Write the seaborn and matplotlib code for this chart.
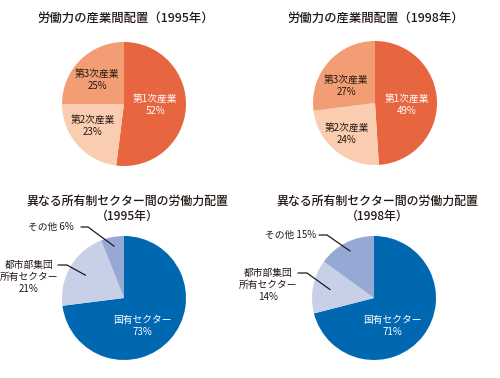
import numpy as np
import matplotlib
matplotlib.use("Agg")
import matplotlib.pyplot as plt
import seaborn as sns

sns.set_style("white")
plt.rcParams['font.family'] = ['Noto Sans CJK JP', 'DejaVu Sans']

# data
industry_labels = ["第1次産業", "第2次産業", "第3次産業"]
industry_1995 = [52, 23, 25]
industry_1998 = [49, 24, 27]
industry_colors = ["#E8663F", "#FACDB1", "#F29D73"]

owner_labels = ["国有セクター", "都市部集団\n所有セクター", "その他"]
owner_1995 = [73, 21, 6]
owner_1998 = [71, 14, 15]
owner_colors = sns.color_palette(["#0067B1", "#C8D0E8", "#95A9D4"])

titles = ["労働力の産業間配置（1995年）", "労働力の産業間配置（1998年）",
          "異なる所有制セクター間の労働力配置\n（1995年）",
          "異なる所有制セクター間の労働力配置\n（1998年）"]

W, H = 500, 378
TXT = "#231815"

fig = plt.figure(figsize=(5, 3.78), dpi=100)
ax = fig.add_axes([0, 0, 1, 1])


def py(y):
    # pixel y (top-down) -> data y
    return H - y


def draw_pie(values, colors, cx, cy, r):
    wedges, _ = ax.pie(values, colors=colors, startangle=90, counterclock=False,
                       center=(cx, py(cy)), radius=r,
                       wedgeprops=dict(linewidth=0))
    return wedges


def wedge_point(w, frac):
    a = np.deg2rad((w.theta1 + w.theta2) / 2)
    cx, cy = w.center
    return cx + frac * w.r * np.cos(a), cy + frac * w.r * np.sin(a)


# top pies: labels inside
top_specs = [
    (industry_1995, 124, 104, [(155, 105), (93, 126), (97, 80)]),
    (industry_1998, 375, 103, [(407, 105), (347, 134), (346, 86)]),
]
for (vals, cx, cy, pos) in top_specs:
    draw_pie(vals, industry_colors, cx, cy, 62)
    for i, (lab, v) in enumerate(zip(industry_labels, vals)):
        ax.text(pos[i][0], py(pos[i][1]), f"{lab}\n{v}%", ha='center', va='center',
                fontsize=7, linespacing=1.25, color='white' if i == 0 else TXT)

# bottom pies: main label inside, others outside with leader lines
bot_specs = [
    (owner_1995, 124, 298, (142, 326), (29, 277), (58, 67, 265), (51, 227), (81, 88, 227)),
    (owner_1998, 374, 298, (392, 326), (268, 285), (298, 307, 273), (291, 235), (319, 327, 235)),
]
for (vals, cx, cy, main_pos, city_pos, city_ln, oth_pos, oth_ln) in bot_specs:
    wedges = draw_pie(vals, owner_colors, cx, cy, 62)
    ax.text(main_pos[0], py(main_pos[1]), f"{owner_labels[0]}\n{vals[0]}%",
            ha='center', va='center', fontsize=7, linespacing=1.25, color='white')
    ax.text(city_pos[0], py(city_pos[1]), f"{owner_labels[1]}\n{vals[1]}%",
            ha='center', va='center', fontsize=7, linespacing=1.25, color=TXT)
    ax.text(oth_pos[0], py(oth_pos[1]), f"{owner_labels[2]} {vals[2]}%",
            ha='center', va='center', fontsize=7, color=TXT)
    for w, ln, frac in [(wedges[1], city_ln, 0.72), (wedges[2], oth_ln, 0.85)]:
        ex, ey = wedge_point(w, frac)
        ax.plot([ln[0], ln[1], ex], [py(ln[2]), py(ln[2]), ey], color=TXT, lw=0.9)

# titles
ax.text(126, py(18), titles[0], ha='center', va='center', fontsize=8.9,
        fontweight='medium', color=TXT)
ax.text(376, py(18), titles[1], ha='center', va='center', fontsize=8.9,
        fontweight='medium', color=TXT)
ax.text(127, py(209), titles[2], ha='center', va='center', fontsize=8.6,
        fontweight='medium', color=TXT, linespacing=1.2)
ax.text(377, py(209), titles[3], ha='center', va='center', fontsize=8.6,
        fontweight='medium', color=TXT, linespacing=1.2)

ax.set_xlim(0, W)
ax.set_ylim(0, H)
ax.set_aspect('auto')
ax.axis('off')

plt.savefig("out.png", dpi=100)
plt.close()
